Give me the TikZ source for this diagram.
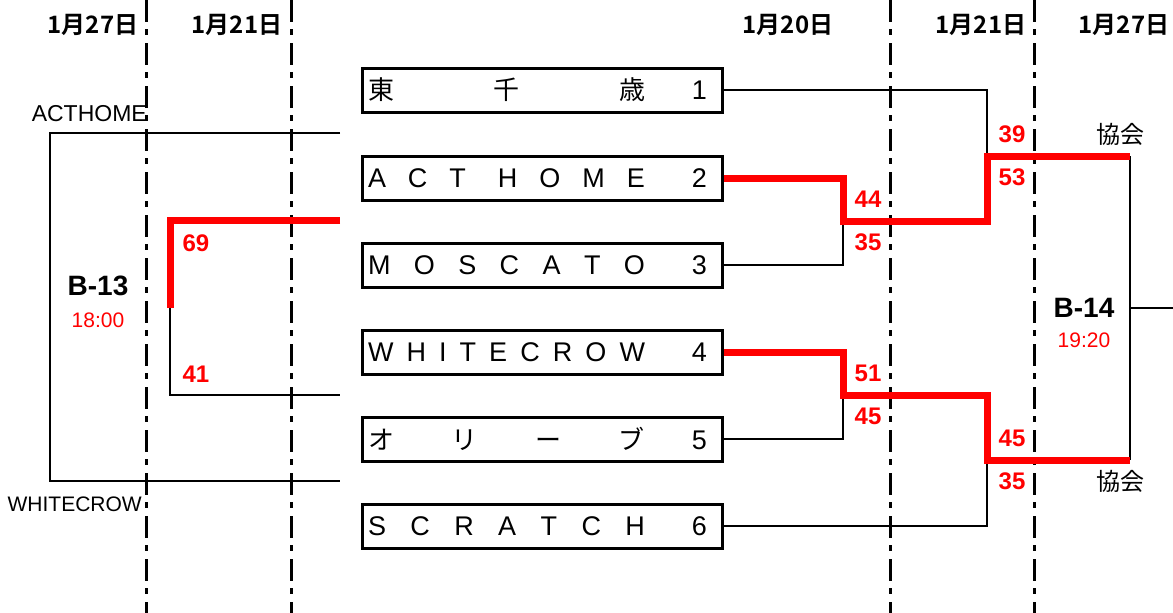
\documentclass[tikz,border=0pt]{standalone}
\usepackage{fontspec}
\setmainfont{Liberation Sans}
\newfontfamily\jp{Noto Sans CJK JP}[BoldFont={Noto Sans CJK JP Bold}]
\newcommand\datefont{\jp\bfseries\fontsize{24}{26}\selectfont}
\newcommand\teamfont{\fontsize{27}{29}\selectfont}
\newcommand\scorefont{\bfseries\fontsize{24}{26}\selectfont}
\newcommand\gamefont{\bfseries\fontsize{28}{30}\selectfont}
\newcommand\timefont{\fontsize{21}{24}\selectfont}
% name spread over the box, seed number at the right
\newcommand\teamrow[2]{\hbox to 360pt{\hskip6pt\hbox to 277pt{#1}\hfill #2\hskip15pt}}
\begin{document}
\begin{tikzpicture}[x=1pt,y=-1pt,
  team/.style={draw,line width=3pt,minimum width=360pt,minimum height=44pt,inner sep=0pt,font=\teamfont},
  lose/.style={black,line width=2.5pt},
  win/.style={red,line width=7pt},
  daycol/.style={line width=3pt,dash pattern=on 22pt off 7pt on 6pt off 8pt},
  date/.style={font=\datefont,inner sep=0pt},
  score/.style={red,font=\scorefont,inner sep=0pt},
  game/.style={font=\gamefont,inner sep=0pt},
  gtime/.style={red,font=\timefont,inner sep=0pt},
  club/.style={font=\jp\fontsize{24}{26}\selectfont,inner sep=0pt},
  side/.style={inner sep=0pt,anchor=east}]
  \useasboundingbox (0,0) rectangle (1173,613);
  % day columns
  \draw[daycol] (146,0) -- (146,613);
  \draw[daycol] (291,0) -- (291,613);
  \draw[daycol] (890,0) -- (890,613);
  \draw[daycol] (1034,0) -- (1034,613);
  \node[date] (d1) at (93,25) {1月27日};
  \node[date] (d2) at (237,25) {1月21日};
  \node[date] (d3) at (788,25) {1月20日};
  \node[date] (d4) at (981,25) {1月21日};
  \node[date] (d5) at (1124,25) {1月27日};
  % teams
  \node[team] (t1) at (542,90) {\teamrow{\jp\fontsize{26}{28}\selectfont 東\hfill 千\hfill 歳}{1}};
  \node[team] (t2) at (542,178) {\teamrow{A\hfill C\hfill T\hfill\hskip10pt H\hfill O\hfill M\hfill E}{2}};
  \node[team] (t3) at (542,265) {\teamrow{M\hfill O\hfill S\hfill C\hfill A\hfill T\hfill O}{3}};
  \node[team] (t4) at (542,352) {\teamrow{W\hfill H\hfill I\hfill T\hfill E\hfill C\hfill R\hfill O\hfill W}{4}};
  \node[team] (t5) at (542,439) {\teamrow{\jp\fontsize{26}{28}\selectfont オ\hfill リ\hfill ー\hfill ブ}{5}};
  \node[team] (t6) at (542,526) {\teamrow{S\hfill C\hfill R\hfill A\hfill T\hfill C\hfill H}{6}};
  % junctions
  \coordinate (m1) at (843,221);
  \coordinate (m2) at (843,395);
  \coordinate (m3) at (987,156);
  \coordinate (m4) at (987,460);
  \coordinate (f1) at (1130,156);
  \coordinate (f2) at (1130,460);
  \coordinate (fout) at (1173,308);
  \coordinate (l1) at (340,133);
  \coordinate (l2) at (340,220);
  \coordinate (l3) at (340,395);
  \coordinate (l4) at (340,481);
  \coordinate (k0) at (50,308);
  \coordinate (k1) at (170,308);
  % right bracket
  \draw[lose] (t1.east) -| (m3);
  \draw[lose] (t3.east) -| (m1);
  \draw[lose] (t5.east) -| (m2);
  \draw[lose] (t6.east) -| (m4);
  \draw[lose] (f1) -- (f2);
  \draw[lose] (f1 |- fout) -- (fout);
  \draw[win] (t2.east) -| (m1) -| (m3) -- (f1);
  \draw[win] (t4.east) -| (m2) -| (m4) -- (f2);
  % left bracket
  \draw[lose] (l1) -| (k0) |- (l4);
  \draw[lose] (k1) |- (l3);
  \draw[win] (l2) -| (k1);
  % scores
  \node[score] (s1) at (868,199) {44};
  \node[score] (s2) at (868,242) {35};
  \node[score] (s3) at (868,373) {51};
  \node[score] (s4) at (868,416) {45};
  \node[score] (s5) at (1012,134) {39};
  \node[score] (s6) at (1012,177) {53};
  \node[score] (s7) at (1012,438) {45};
  \node[score] (s8) at (1012,481) {35};
  \node[score] (s9) at (196,243) {69};
  \node[score] (s10) at (196,374) {41};
  % games
  \node[game] (g14) at (1084,308) {B-14};
  \node[gtime] (h14) at (1084,340) {19:20};
  \node[game] (g13) at (98,286) {B-13};
  \node[gtime] (h13) at (98,320) {18:00};
  \node[club] (c1) at (1120,134) {協会};
  \node[club] (c2) at (1120,481) {協会};
  \node[side,font=\fontsize{23}{25}\selectfont] (n1) at (147,114) {ACTHOME};
  \node[side,font=\fontsize{21}{23}\selectfont] (n2) at (142,504) {WHITECROW};
\end{tikzpicture}
\end{document}
